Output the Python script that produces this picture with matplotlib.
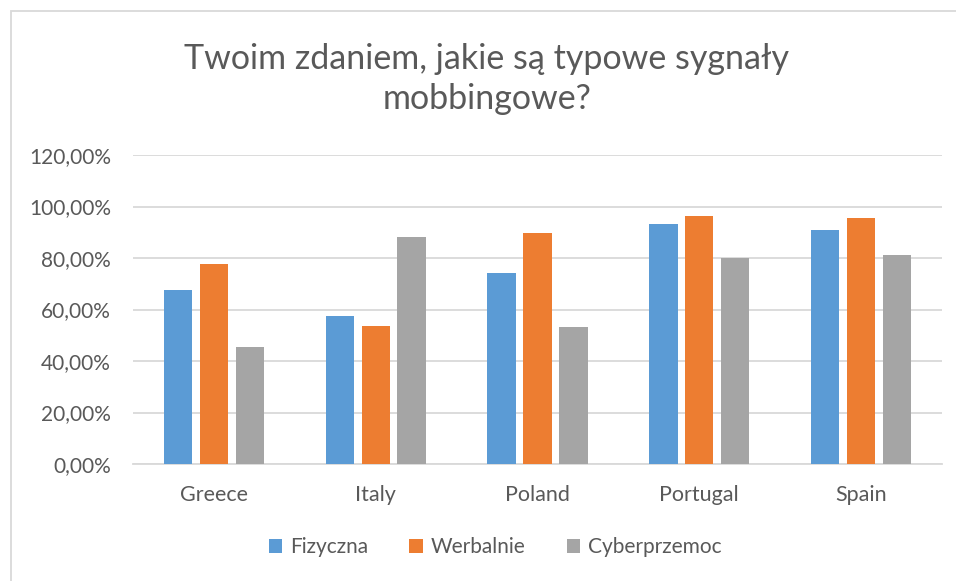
import matplotlib
matplotlib.use("Agg")
import matplotlib.pyplot as plt
import numpy as np
from matplotlib.patches import Rectangle

countries = ["Greece", "Italy", "Poland", "Portugal", "Spain"]
fizyczna = [67.6, 57.6, 74.3, 93.3, 90.9]
werbalnie = [77.7, 53.7, 89.9, 96.5, 95.4]
cyber = [45.5, 88.3, 53.2, 79.9, 81.0]
series = [("Fizyczna", fizyczna, "#5B9BD5"),
          ("Werbalnie", werbalnie, "#ED7D31"),
          ("Cyberprzemoc", cyber, "#A5A5A5")]
yticks = [0, 20, 40, 60, 80, 100, 120]

plt.rcParams["font.family"] = ["Lato", "DejaVu Sans"]
TXT = "#595959"

fig = plt.figure(figsize=(9.56, 5.81), dpi=100)
ax = fig.add_axes([133 / 956, 1 - 464 / 581, 809 / 956, 309 / 581])

x = np.arange(len(countries))
step, width = 0.222, 0.175
for i, (name, vals, col) in enumerate(series):
    ax.bar(x + (i - 1) * step, vals, width, color=col, label=name, zorder=3)

ax.set_xlim(-0.5, len(countries) - 0.5)
ax.set_ylim(0, 120)
ax.set_yticks(yticks)
ax.set_yticklabels([f"{v},00%" for v in yticks], color=TXT, fontsize=15)
ax.set_xticks(x)
ax.set_xticklabels(countries, color=TXT, fontsize=15.5)
ax.tick_params(axis="y", length=0, pad=16)
ax.tick_params(axis="x", length=0, pad=15)
ax.grid(axis="y", color="#D9D9D9", linewidth=1.3, zorder=0)
for s in ["top", "right", "left"]:
    ax.spines[s].set_visible(False)
ax.spines["bottom"].set_color("#D9D9D9")
ax.spines["bottom"].set_linewidth(1.3)

fig.text(487 / 956, 1 - 79 / 581, "Twoim zdaniem, jakie są typowe sygnały\nmobbingowe?",
         ha="center", va="center", fontsize=24.5, color=TXT, linespacing=1.3)

fig.legend(loc="center", bbox_to_anchor=(495 / 956, 1 - 547 / 581), ncol=3,
           frameon=False, fontsize=15, labelcolor=TXT, handlelength=0.65,
           handleheight=0.65, handletextpad=0.35, columnspacing=2.0)

fig.patches.append(Rectangle((10.5 / 956, -0.1), 2, 1.1 - 10.5 / 581,
                             transform=fig.transFigure, fill=False,
                             edgecolor="#D9D9D9", linewidth=1.3))

fig.savefig("out.png", dpi=100)
